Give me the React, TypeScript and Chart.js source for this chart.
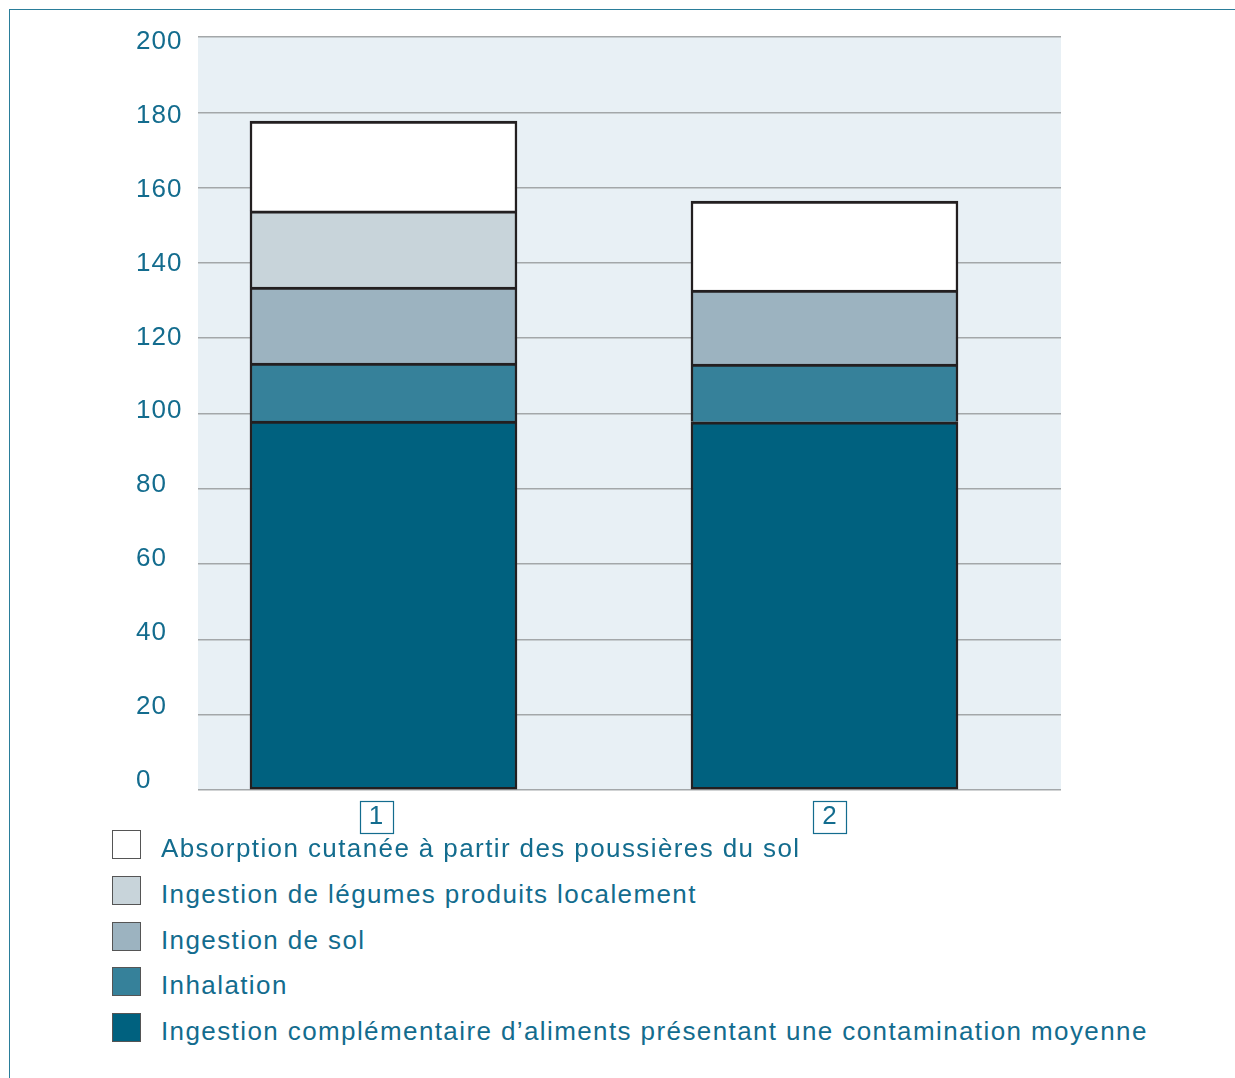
import React, { useEffect, useRef } from "react";
import { Chart, registerables } from "chart.js";

Chart.register(...registerables);

const categories = [1, 2];
const categoryLabels = ["1", "2"];
const yTickValues = [0, 20, 40, 60, 80, 100, 120, 140, 160, 180, 200];

const seriesNames = [
  "Ingestion complémentaire d’aliments présentant une contamination moyenne",
  "Inhalation",
  "Ingestion de sol",
  "Ingestion de légumes produits localement",
  "Absorption cutanée à partir des poussières du sol",
];
const seriesColors = ["#00617f", "#36819a", "#9cb3c0", "#c8d4da", "#ffffff"];

const ingestionComplementaire = [98.0, 97.8];
const inhalation = [15.4, 15.3];
const ingestionSol = [20.2, 19.7];
const ingestionLegumes: (number | null)[] = [20.2, null];
const absorptionCutanee = [23.9, 23.6];

const seriesValues = [
  ingestionComplementaire,
  inhalation,
  ingestionSol,
  ingestionLegumes,
  absorptionCutanee,
];

const TEXT = "#136c8e";
const FONT = "'Liberation Sans', Arial, sans-serif";

const bgPlugin = {
  id: "plotBg",
  beforeLayout(chart: any) {
    chart.ctx.letterSpacing = "1px";
  },
  beforeDraw(chart: any) {
    const { ctx, chartArea } = chart;
    ctx.letterSpacing = "1px";
    ctx.save();
    ctx.fillStyle = "#e8f0f5";
    ctx.fillRect(chartArea.left, chartArea.top, chartArea.right - chartArea.left, chartArea.bottom - chartArea.top);
    ctx.restore();
  },
  afterDraw(chart: any) {
    const { ctx } = chart;
    const xl = chart.scales.xl;
    ctx.save();
    ctx.strokeStyle = TEXT;
    ctx.lineWidth = 1.2;
    categories.forEach((v) => {
      const px = xl.getPixelForValue(v);
      ctx.strokeRect(Math.round(px - 16.5) + 0.5, 801.5, 33, 32);
    });
    ctx.restore();
  },
};

export default function App() {
  const ref = useRef<HTMLCanvasElement>(null);

  useEffect(() => {
    if (!ref.current) return;
    const datasets = seriesValues.map((vals, i) => ({
      label: seriesNames[i],
      data: categories.map((c, j) => ({ x: c, y: vals[j] })),
      backgroundColor: seriesColors[i],
      borderColor: "#231f20",
      borderWidth: { top: 3, left: 2.5, right: 2.5, bottom: i === 0 ? 2.5 : 0 },
      borderSkipped: false,
      barThickness: 267,
    }));
    const chart = new Chart(ref.current, {
      type: "bar",
      data: { datasets } as any,
      plugins: [bgPlugin],
      options: {
        animation: false,
        responsive: false,
        maintainAspectRatio: false,
        layout: { padding: { left: 136, top: 37, right: 174, bottom: 0 } },
        plugins: { legend: { display: false }, tooltip: { enabled: false } },
        scales: {
          x: {
            type: "linear",
            display: false,
            stacked: true,
            offset: false,
            min: 0.5794,
            max: 2.5363,
          },
          xl: {
            type: "linear",
            position: "bottom",
            offset: false,
            min: 0.6064,
            max: 2.5094,
            grid: { display: false, drawTicks: false, offset: false },
            border: { display: false },
            afterBuildTicks: (s: any) => {
              s.ticks = categories.map((v) => ({ value: v }));
            },
            ticks: {
              color: TEXT,
              font: { family: FONT, size: 26 },
              padding: 11,
              callback: (v: any) => categoryLabels[categories.indexOf(Number(v))] ?? "",
            },
            afterFit: (s: any) => {
              s.height = 60;
            },
          },
          y: {
            type: "linear",
            position: "left",
            stacked: true,
            min: 0,
            max: 200,
            grid: { color: "#a3a7a9", lineWidth: 1.5, drawTicks: false },
            border: { display: false },
            ticks: { display: false, stepSize: 20 },
            afterFit: (s: any) => {
              s.width = 0;
            },
          },
          yl: {
            type: "linear",
            position: "left",
            min: -2.57,
            max: 201.36,
            grid: { display: false, drawTicks: false },
            border: { display: false },
            afterBuildTicks: (s: any) => {
              s.ticks = yTickValues.map((v) => ({ value: v }));
            },
            ticks: {
              color: TEXT,
              crossAlign: "far",
              padding: 0,
              font: { family: FONT, size: 26 },
            },
            afterFit: (s: any) => {
              s.width = 62;
            },
          },
        },
      } as any,
    });
    return () => chart.destroy();
  }, []);

  const legendOrder = [4, 3, 2, 1, 0];
  const rowTops = [830, 876, 922, 967, 1013];

  return (
    <div style={{ position: "absolute", left: 0, top: 0, width: 1235, height: 1078, background: "#fff", overflow: "hidden" }}>
      <div
        style={{
          position: "absolute",
          left: 9,
          top: 9,
          width: 1240,
          height: 1080,
          borderTop: "1.5px solid #2a7d9a",
          borderLeft: "1.5px solid #2a7d9a",
        }}
      />
      <canvas ref={ref} width={1235} height={850} style={{ position: "absolute", left: 0, top: 0, width: 1235, height: 850 }} />
      {legendOrder.map((si, r) => (
        <React.Fragment key={si}>
          <div
            style={{
              position: "absolute",
              left: 112,
              top: rowTops[r],
              width: 27,
              height: 27,
              background: seriesColors[si],
              border: "1.5px solid #555",
            }}
          />
          <div
            style={{
              position: "absolute",
              left: 161,
              top: rowTops[r] + 3,
              lineHeight: "30px",
              fontSize: 26,
              fontFamily: FONT,
              letterSpacing: "1.4px",
              color: TEXT,
              whiteSpace: "nowrap",
            }}
          >
            {seriesNames[si]}
          </div>
        </React.Fragment>
      ))}
    </div>
  );
}
